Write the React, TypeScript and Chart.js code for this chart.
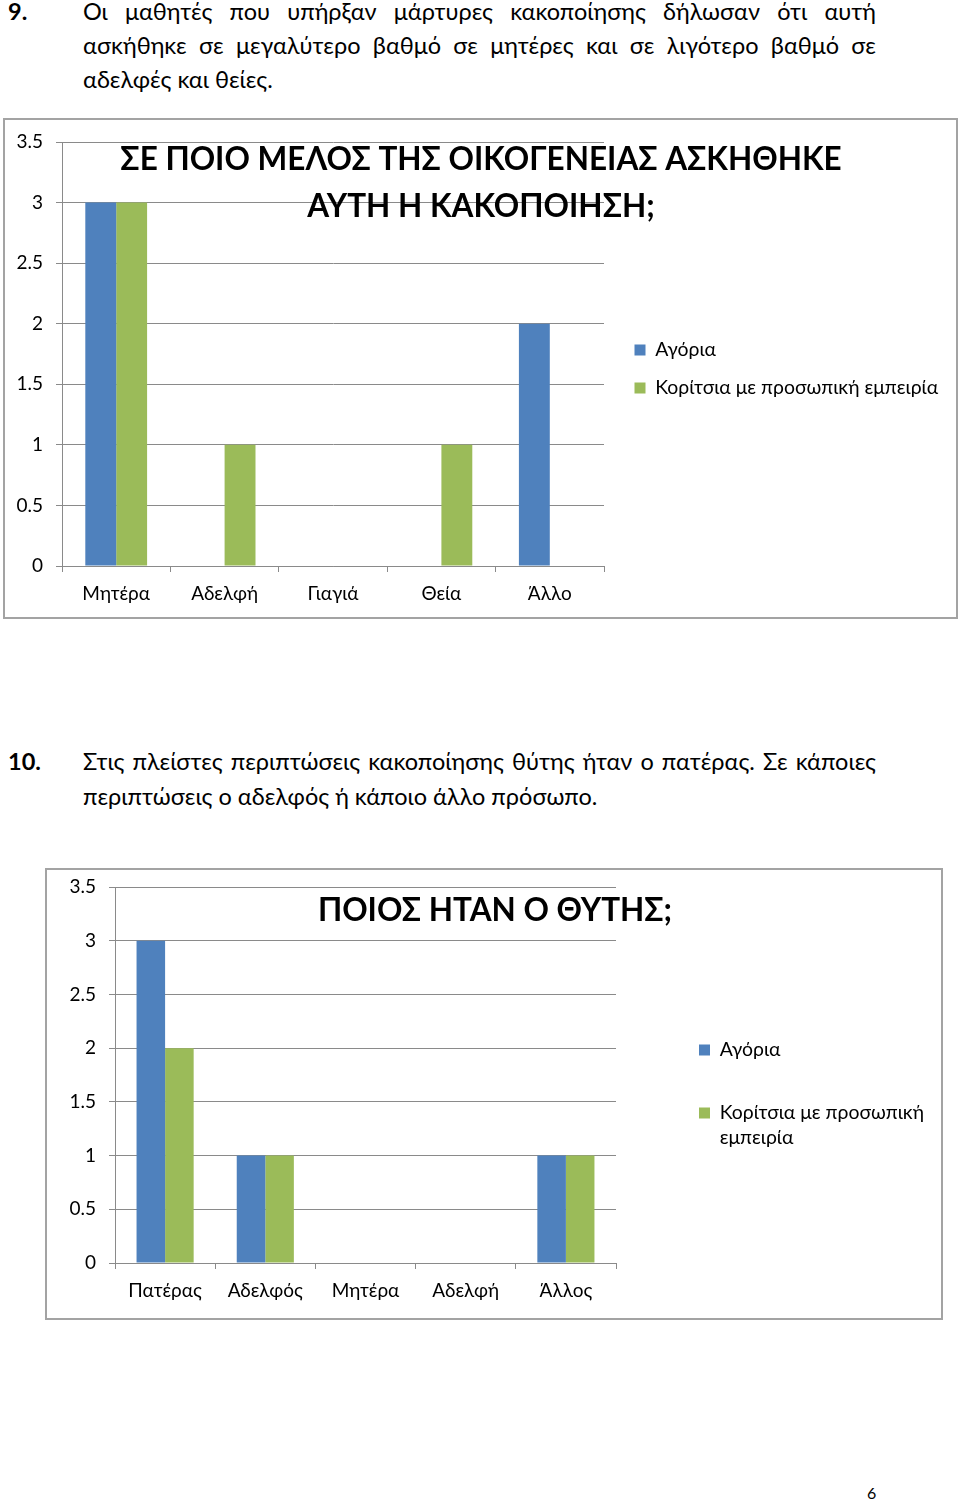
import React, { useEffect, useRef } from "react";
import { Chart, registerables, layouts } from "chart.js";

Chart.register(...registerables);

const FONT = "Lato, 'Noto Sans', sans-serif";
const GRID = "#8a8a8a";
const BLUE = "#4f81bd";
const GREEN = "#9bbb59";

// ---- data ----
const yTicks = [0, 0.5, 1, 1.5, 2, 2.5, 3, 3.5];
const seriesNames = ["Αγόρια", "Κορίτσια με προσωπική εμπειρία"];

const chart1Title = ["ΣΕ ΠΟΙΟ ΜΕΛΟΣ ΤΗΣ ΟΙΚΟΓΕΝΕΙΑΣ ΑΣΚΗΘΗΚΕ", "ΑΥΤΗ Η ΚΑΚΟΠΟΙΗΣΗ;"];
const chart1Categories = ["Μητέρα", "Αδελφή", "Γιαγιά", "Θεία", "Άλλο"];
const chart1Boys = [3, 0, 0, 0, 2];
const chart1Girls = [3, 1, 0, 1, 0];
const chart1Legend: (string | string[])[] = ["Αγόρια", "Κορίτσια με προσωπική εμπειρία"];

const chart2Title = ["ΠΟΙΟΣ ΗΤΑΝ Ο ΘΥΤΗΣ;"];
const chart2Categories = ["Πατέρας", "Αδελφός", "Μητέρα", "Αδελφή", "Άλλος"];
const chart2Boys = [3, 1, 0, 0, 1];
const chart2Girls = [2, 1, 0, 0, 1];
const chart2Legend: (string | string[])[] = ["Αγόρια", ["Κορίτσια με προσωπική", "εμπειρία"]];

// ---- layout geometry (canvas coordinates) ----
type Geom = {
  W: number; H: number;
  left: number; right: number; top: number; bottom: number;
  titleX: number; titleY: number;
  legendPad: number; legendLH: number; legendY1: number; boxLeft: number;
};

const LEGEND_SIZE = 19.4;
const BOX = 11;
const TITLE_LH = 47;

function BarChart(props: {
  geom: Geom;
  title: string[];
  categories: string[];
  boys: number[];
  girls: number[];
  legendTexts: (string | string[])[];
}) {
  const ref = useRef<HTMLCanvasElement | null>(null);
  useEffect(() => {
    const g = props.geom;
    const ctx = ref.current!.getContext("2d")!;
    ctx.font = `normal ${LEGEND_SIZE}px ${FONT}`;
    let textW = 0;
    for (const t of props.legendTexts) {
      const s = typeof t === "string" ? t : t.reduce((a, b) => (a.length > b.length ? a : b));
      textW = Math.max(textW, ctx.measureText(s).width);
    }
    const pad = g.legendPad;
    const legendW = pad + BOX + LEGEND_SIZE / 2 + textW + 10;
    const spacer = g.boxLeft - pad - g.right;
    const padR = g.W - g.right - spacer - legendW;
    const padL = 2 * g.titleX - g.W + padR;
    const yW = g.left - padL;
    let colH = 0;
    for (const t of props.legendTexts) {
      colH += (typeof t === "string" ? LEGEND_SIZE : g.legendLH * t.length) + pad;
    }
    const padB = g.H + pad - colH - 2 * (g.legendY1 - LEGEND_SIZE / 2);
    const tPadTop = g.titleY - TITLE_LH / 2;
    const tPadBottom = g.top - props.title.length * TITLE_LH - tPadTop;
    const xH = g.H - padB - g.bottom;

    const spacerPlugin = {
      id: "spacer",
      beforeInit(chart: any) {
        const box: any = {
          position: "right",
          weight: 500,
          fullSize: false,
          options: {},
          width: 0, height: 0, left: 0, top: 0, right: 0, bottom: 0,
          update(_mw: number, mh: number) { this.width = spacer; this.height = mh; },
          isHorizontal() { return false; },
          draw() {},
        };
        layouts.addBox(chart, box);
      },
    };

    const noOverhang = (s: any) => {
      s.paddingTop = 0; s.paddingBottom = 0; s.paddingLeft = 0; s.paddingRight = 0;
    };

    const chart = new Chart(ref.current!, {
      type: "bar",
      data: {
        labels: props.categories,
        datasets: [
          { label: seriesNames[0], data: props.boys, backgroundColor: BLUE, borderWidth: 0, categoryPercentage: 0.57, barPercentage: 1 },
          { label: seriesNames[1], data: props.girls, backgroundColor: GREEN, borderWidth: 0, categoryPercentage: 0.57, barPercentage: 1 },
        ],
      },
      plugins: [spacerPlugin],
      options: {
        animation: false,
        responsive: false,
        devicePixelRatio: 1,
        layout: { padding: { left: padL, right: padR, top: 0, bottom: padB } },
        plugins: {
          title: {
            display: true,
            text: props.title,
            color: "#000",
            align: "center",
            font: { family: FONT, size: 31.5, weight: "bold", lineHeight: `${TITLE_LH}px` },
            padding: { top: tPadTop, bottom: tPadBottom },
          },
          legend: {
            display: true,
            position: "right",
            align: "center",
            maxWidth: 600,
            labels: {
              boxWidth: BOX,
              boxHeight: BOX,
              padding: pad,
              color: "#000",
              font: { family: FONT, size: LEGEND_SIZE, lineHeight: `${g.legendLH}px` },
              generateLabels: (c: any) => {
                const items = (Chart as any).defaults.plugins.legend.labels.generateLabels(c);
                items.forEach((it: any, i: number) => { it.text = props.legendTexts[i]; it.lineWidth = 0; });
                return items;
              },
            },
          },
          tooltip: { enabled: false },
        },
        scales: {
          x: {
            grid: { display: true, drawOnChartArea: false, drawTicks: true, tickLength: 6, color: GRID, offset: true },
            border: { display: true, color: GRID },
            ticks: { color: "#000", font: { family: FONT, size: 19 }, padding: 10, maxRotation: 0, autoSkip: false },
            afterFit: (s: any) => { s.height = xH; noOverhang(s); },
          },
          y: {
            min: 0,
            max: 3.5,
            afterBuildTicks: (s: any) => { s.ticks = yTicks.map((v) => ({ value: v })); },
            grid: { color: GRID, tickLength: 6 },
            border: { display: true, color: GRID },
            ticks: { color: "#000", font: { family: FONT, size: 19 }, padding: 13, callback: (v: any) => String(v) },
            afterFit: (s: any) => { s.width = yW; noOverhang(s); },
          },
        },
      } as any,
    });
    return () => chart.destroy();
  }, []);
  return <canvas ref={ref} width={props.geom.W} height={props.geom.H} style={{ display: "block" }} />;
}

const geom1: Geom = {
  W: 951, H: 497, left: 57, right: 599, top: 22, bottom: 446,
  titleX: 476, titleY: 39.5,
  legendPad: 18.6, legendLH: 25, legendY1: 230, boxLeft: 629.5,
};
const geom2: Geom = {
  W: 894, H: 448, left: 68, right: 569, top: 17, bottom: 393,
  titleX: 448, titleY: 41,
  legendPad: 43.6, legendLH: 25, legendY1: 180, boxLeft: 652,
};

const BODY = 23.5;
const bodyStyle: React.CSSProperties = {
  position: "absolute",
  fontFamily: FONT,
  fontSize: BODY,
  lineHeight: 1.2,
  color: "#000",
  margin: 0,
};

function Line(props: { text: string; baseline: number; justify?: boolean }) {
  return (
    <div
      style={{
        ...bodyStyle,
        left: 83,
        width: 793,
        top: props.baseline - 0.987 * BODY,
        textAlign: props.justify ? "justify" : "left",
        textAlignLast: props.justify ? "justify" : "left",
      } as React.CSSProperties}
    >
      {props.text}
    </div>
  );
}

function Num(props: { text: string; baseline: number }) {
  return (
    <div style={{ ...bodyStyle, left: 8, top: props.baseline - 0.987 * BODY, fontWeight: "bold" }}>{props.text}</div>
  );
}

export default function App() {
  return (
    <div style={{ position: "absolute", left: 0, top: 0, width: 960, height: 1502, background: "#fff", overflow: "hidden" }}>
      <Num text="9." baseline={20} />
      <Line text="Οι μαθητές που υπήρξαν μάρτυρες κακοποίησης δήλωσαν ότι αυτή" baseline={20} justify />
      <Line text="ασκήθηκε σε μεγαλύτερο βαθμό σε μητέρες και σε λιγότερο βαθμό σε" baseline={54.5} justify />
      <Line text="αδελφές και θείες." baseline={88.5} />

      <div style={{ position: "absolute", left: 3, top: 118, width: 955, height: 501, border: "2px solid #a3a3a3", boxSizing: "border-box" }}>
        <BarChart geom={geom1} title={chart1Title} categories={chart1Categories} boys={chart1Boys} girls={chart1Girls} legendTexts={chart1Legend} />
      </div>

      <Num text="10." baseline={770} />
      <Line text="Στις πλείστες περιπτώσεις κακοποίησης θύτης ήταν ο πατέρας. Σε κάποιες" baseline={770} justify />
      <Line text="περιπτώσεις ο αδελφός ή κάποιο άλλο πρόσωπο." baseline={805} />

      <div style={{ position: "absolute", left: 45, top: 868, width: 898, height: 452, border: "2px solid #a3a3a3", boxSizing: "border-box" }}>
        <BarChart geom={geom2} title={chart2Title} categories={chart2Categories} boys={chart2Boys} girls={chart2Girls} legendTexts={chart2Legend} />
      </div>

      <div style={{ position: "absolute", left: 867, top: 1499 - 0.987 * 16, fontFamily: FONT, fontSize: 16, lineHeight: 1.2, color: "#000" }}>6</div>
    </div>
  );
}
